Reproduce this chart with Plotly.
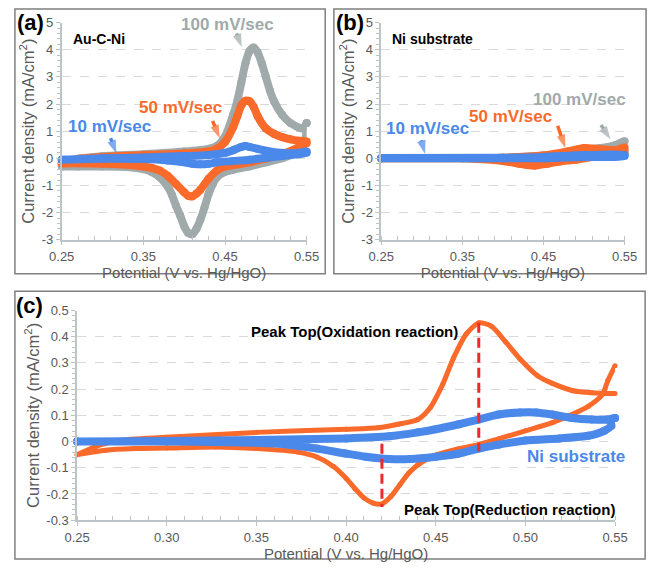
import plotly.graph_objects as go

FONT = "Liberation Sans, Arial, sans-serif"
GREY = "#A0AAAB"
ORANGE = "#F96A2B"
BLUE = "#4A88EA"
AXC = "#BCC4C8"
TICKC = "#595959"

# ---------------- Panel (a): Au-C-Ni ----------------
a100_fwd_v = [0.25, 0.27, 0.30, 0.35, 0.40, 0.43, 0.44, 0.45, 0.46, 0.465, 0.47, 0.475, 0.48, 0.485, 0.49, 0.495, 0.50, 0.505, 0.51, 0.52, 0.53, 0.545, 0.55]
a100_fwd_i = [-0.20, -0.02, 0.08, 0.15, 0.25, 0.35, 0.45, 0.80, 1.60, 2.10, 2.80, 3.50, 3.95, 4.08, 3.90, 3.50, 3.00, 2.50, 2.10, 1.60, 1.30, 1.10, 1.30]
a100_rev_v = [0.55, 0.548, 0.54, 0.52, 0.50, 0.48, 0.46, 0.45, 0.44, 0.435, 0.43, 0.425, 0.42, 0.415, 0.41, 0.405, 0.40, 0.395, 0.39, 0.385, 0.38, 0.37, 0.36, 0.35, 0.33, 0.30, 0.27, 0.25]
a100_rev_i = [1.30, 0.60, 0.25, 0.00, -0.15, -0.30, -0.42, -0.50, -0.70, -0.95, -1.30, -1.80, -2.25, -2.60, -2.80, -2.75, -2.50, -2.10, -1.75, -1.35, -1.05, -0.70, -0.50, -0.40, -0.32, -0.30, -0.30, -0.30]

a50_fwd_v = [0.25, 0.27, 0.30, 0.35, 0.40, 0.43, 0.44, 0.45, 0.46, 0.465, 0.47, 0.475, 0.48, 0.485, 0.49, 0.50, 0.51, 0.52, 0.53, 0.54, 0.55]
a50_fwd_i = [-0.18, -0.02, 0.05, 0.12, 0.18, 0.25, 0.35, 0.60, 1.15, 1.55, 1.95, 2.12, 2.10, 1.90, 1.55, 1.10, 0.90, 0.78, 0.70, 0.65, 0.62]
a50_rev_v = [0.55, 0.54, 0.52, 0.50, 0.48, 0.46, 0.45, 0.44, 0.43, 0.42, 0.415, 0.41, 0.405, 0.40, 0.39, 0.38, 0.37, 0.36, 0.35, 0.32, 0.30, 0.27, 0.25]
a50_rev_i = [0.55, 0.40, 0.15, 0.00, -0.15, -0.25, -0.30, -0.45, -0.75, -1.15, -1.30, -1.40, -1.38, -1.25, -0.95, -0.65, -0.45, -0.35, -0.30, -0.22, -0.20, -0.18, -0.18]

a10_fwd_v = [0.25, 0.30, 0.35, 0.40, 0.43, 0.45, 0.46, 0.47, 0.475, 0.48, 0.49, 0.50, 0.52, 0.54, 0.55]
a10_fwd_i = [-0.05, 0.00, 0.03, 0.08, 0.12, 0.20, 0.30, 0.42, 0.45, 0.42, 0.35, 0.28, 0.20, 0.20, 0.25]
a10_rev_v = [0.55, 0.53, 0.50, 0.48, 0.46, 0.44, 0.43, 0.42, 0.41, 0.40, 0.38, 0.35, 0.30, 0.25]
a10_rev_i = [0.20, 0.12, 0.02, -0.05, -0.10, -0.15, -0.20, -0.22, -0.20, -0.15, -0.08, -0.03, -0.02, -0.05]

# ---------------- Panel (b): Ni substrate ----------------
b100_fwd_v = [0.25, 0.35, 0.40, 0.45, 0.48, 0.50, 0.52, 0.53, 0.54, 0.55]
b100_fwd_i = [0.00, 0.00, 0.02, 0.10, 0.20, 0.30, 0.38, 0.42, 0.50, 0.63]
b100_rev_v = [0.55, 0.53, 0.50, 0.47, 0.45, 0.43, 0.40, 0.35, 0.25]
b100_rev_i = [0.30, 0.15, 0.05, -0.05, -0.10, -0.10, -0.05, 0.00, 0.00]

b50_fwd_v = [0.25, 0.35, 0.40, 0.45, 0.48, 0.50, 0.52, 0.54, 0.55]
b50_fwd_i = [0.00, 0.00, 0.02, 0.10, 0.25, 0.38, 0.33, 0.30, 0.40]
b50_rev_v = [0.55, 0.52, 0.49, 0.47, 0.455, 0.44, 0.43, 0.42, 0.40, 0.37, 0.35, 0.25]
b50_rev_i = [0.20, 0.10, -0.05, -0.12, -0.20, -0.27, -0.25, -0.20, -0.10, -0.03, 0.00, 0.00]

b10_fwd_v = [0.25, 0.40, 0.45, 0.50, 0.55]
b10_fwd_i = [0.01, 0.02, 0.05, 0.12, 0.12]
b10_rev_v = [0.55, 0.50, 0.45, 0.40, 0.25]
b10_rev_i = [0.08, 0.05, 0.00, 0.00, 0.00]

# ---------------- Panel (c): comparison ----------------
c_au_rev_v = [0.55, 0.546, 0.543, 0.535, 0.526, 0.515, 0.50, 0.485, 0.474, 0.463, 0.45, 0.44, 0.435, 0.43, 0.425, 0.42, 0.415, 0.41, 0.405, 0.40, 0.393, 0.384, 0.373, 0.35, 0.327, 0.30, 0.282, 0.266, 0.25]
c_au_rev_i = [0.289, 0.233, 0.18, 0.134, 0.103, 0.072, 0.041, 0.01, -0.012, -0.027, -0.052, -0.089, -0.12, -0.165, -0.21, -0.238, -0.235, -0.215, -0.18, -0.14, -0.095, -0.06, -0.04, -0.027, -0.021, -0.025, -0.027, -0.033, -0.05]
c_au_fwd_v = [0.25, 0.26, 0.273, 0.30, 0.35, 0.40, 0.418, 0.429, 0.44, 0.447, 0.454, 0.46, 0.467, 0.474, 0.481, 0.489, 0.497, 0.507, 0.515, 0.526, 0.537, 0.55]
c_au_fwd_i = [-0.05, -0.02, 0.004, 0.016, 0.035, 0.047, 0.053, 0.066, 0.084, 0.13, 0.22, 0.32, 0.41, 0.453, 0.44, 0.38, 0.315, 0.25, 0.222, 0.195, 0.186, 0.183]

c_ni_fwd_v = [0.25, 0.30, 0.35, 0.40, 0.424, 0.44, 0.45, 0.463, 0.474, 0.485, 0.497, 0.506, 0.515, 0.526, 0.537, 0.546, 0.55]
c_ni_fwd_i = [0.0, 0.002, 0.006, 0.012, 0.02, 0.035, 0.047, 0.066, 0.084, 0.103, 0.111, 0.111, 0.103, 0.09, 0.084, 0.084, 0.09]
c_ni_rev_v = [0.55, 0.548, 0.544, 0.535, 0.519, 0.50, 0.485, 0.474, 0.463, 0.45, 0.436, 0.424, 0.411, 0.40, 0.384, 0.368, 0.35, 0.30, 0.25]
c_ni_rev_i = [0.09, 0.06, 0.041, 0.022, 0.012, 0.004, -0.012, -0.027, -0.046, -0.058, -0.067, -0.067, -0.058, -0.046, -0.027, -0.012, -0.005, 0.0, 0.0]

# pointer arrows (tail -> tip) for the scan-rate labels
a_arrows = [  # (tail_v, tail_i, tip_v, tip_i, colour)
    (0.4641, 4.60, 0.4705, 4.10, GREY),
    (0.4348, 1.38, 0.4435, 0.74, ORANGE),
    (0.3099, 0.74, 0.3170, 0.18, BLUE),
]
b_arrows = [
    (0.5208, 1.23, 0.5326, 0.70, GREY),
    (0.4674, 1.20, 0.4769, 0.38, ORANGE),
    (0.2993, 0.66, 0.3040, 0.17, BLUE),
]

# tick labels
ab_xticks = [0.25, 0.35, 0.45, 0.55]
ab_xticklabels = ["0.25", "0.35", "0.45", "0.55"]
ab_yticks = [-3, -2, -1, 0, 1, 2, 3, 4, 5]
ab_yticklabels = ["-3", "-2", "-1", "0", "1", "2", "3", "4", "5"]
c_xticks = [0.25, 0.30, 0.35, 0.40, 0.45, 0.50, 0.55]
c_xticklabels = ["0.25", "0.30", "0.35", "0.40", "0.45", "0.50", "0.55"]
c_yticks = [-0.3, -0.2, -0.1, 0, 0.1, 0.2, 0.3, 0.4, 0.5]
c_yticklabels = ["-0.3", "-0.2", "-0.1", "0", "0.1", "0.2", "0.3", "0.4", "0.5"]

fig = go.Figure()


def loop(xa, ya, v1, i1, v2, i2, color, width, name):
    fig.add_trace(go.Scatter(
        x=v1 + v2, y=i1 + i2, mode="lines+markers", name=name,
        line=dict(color=color, width=width, shape="spline", smoothing=0.7),
        marker=dict(color=color, size=width, line=dict(width=0)),
        cliponaxis=False, xaxis=xa, yaxis=ya, showlegend=False, hoverinfo="skip"))


loop("x", "y", a100_fwd_v, a100_fwd_i, a100_rev_v, a100_rev_i, GREY, 8, "100 mV/sec")
loop("x", "y", a50_fwd_v, a50_fwd_i, a50_rev_v, a50_rev_i, ORANGE, 8, "50 mV/sec")
loop("x", "y", a10_fwd_v, a10_fwd_i, a10_rev_v, a10_rev_i, BLUE, 8, "10 mV/sec")

loop("x2", "y2", b100_fwd_v, b100_fwd_i, b100_rev_v, b100_rev_i, GREY, 8, "100 mV/sec")
loop("x2", "y2", b50_fwd_v, b50_fwd_i, b50_rev_v, b50_rev_i, ORANGE, 8, "50 mV/sec")
loop("x2", "y2", b10_fwd_v, b10_fwd_i, b10_rev_v, b10_rev_i, BLUE, 8, "10 mV/sec")

loop("x3", "y3", c_au_rev_v, c_au_rev_i, c_au_fwd_v, c_au_fwd_i, ORANGE, 5, "Au-C-Ni")
loop("x3", "y3", c_ni_fwd_v, c_ni_fwd_i, c_ni_rev_v, c_ni_rev_i, BLUE, 8, "Ni substrate")

# arrows as line + arrow-head marker
for xa, ya, arrows in [("x", "y", a_arrows), ("x2", "y2", b_arrows)]:
    for tv, ti, hv, hi, col in arrows:
        fig.add_trace(go.Scatter(
            x=[tv, hv], y=[ti, hi], mode="lines+markers", xaxis=xa, yaxis=ya,
            line=dict(color=col, width=3.5),
            marker=dict(symbol="arrow", size=[0, 14], angleref="previous", color=col, line=dict(width=0)),
            showlegend=False, hoverinfo="skip", cliponaxis=False))

# peak marker lines derived from data
ox_k = max(range(len(c_au_fwd_i)), key=lambda k: c_au_fwd_i[k])
red_k = min(range(len(c_au_rev_i)), key=lambda k: c_au_rev_i[k])
ox_v, ox_i = c_au_fwd_v[ox_k], c_au_fwd_i[ox_k]
rd_v, rd_i = c_au_rev_v[red_k], c_au_rev_i[red_k]
fig.add_trace(go.Scatter(x=[ox_v, ox_v], y=[ox_i, -0.037], mode="lines", xaxis="x3", yaxis="y3",
                         line=dict(color="#F0282A", width=3, dash="10px,5px"), showlegend=False, hoverinfo="skip"))
fig.add_trace(go.Scatter(x=[rd_v, rd_v], y=[-0.008, rd_i - 0.012], mode="lines", xaxis="x3", yaxis="y3",
                         line=dict(color="#F0282A", width=3, dash="10px,5px"), showlegend=False, hoverinfo="skip"))

W, H = 661, 571


def px(v):
    return v / W


def py(v):
    return 1 - v / H


tickfont = dict(family=FONT, size=13, color=TICKC)
xtitlefont = dict(family=FONT, size=15, color=TICKC)
ytitlefont = dict(family=FONT, size=16.5, color=TICKC)


def xaxis(domain, ticks, labels, minor_dt, anchor):
    return dict(domain=domain, range=[0.25, 0.55], anchor=anchor, showgrid=False, zeroline=False,
                showline=True, linecolor=AXC, linewidth=1.5, tickmode="array", tickvals=ticks,
                ticktext=labels, ticks="outside", ticklen=4, tickcolor=AXC, tickfont=tickfont,
                minor=dict(tick0=0.25, dtick=minor_dt, ticks="inside", ticklen=4, tickcolor=AXC),
                title=dict(text="Potential (V vs. Hg/HgO)", font=xtitlefont, standoff=0))


def yaxis(domain, rng, ticks, labels, minor_dt, anchor):
    return dict(domain=domain, range=rng, anchor=anchor, showgrid=True, gridcolor="#D9D9D9",
                griddash="dash", gridwidth=1, zeroline=False, showline=True, linecolor=AXC,
                linewidth=1.5, tickmode="array", tickvals=ticks, ticktext=labels, ticks="outside",
                ticklen=4, tickcolor=AXC, tickfont=tickfont,
                minor=dict(tick0=rng[0], dtick=minor_dt, ticks="outside", ticklen=3, tickcolor=AXC, showgrid=False),
                title=dict(text="Current density (mA/cm<sup>2</sup>)", font=ytitlefont, standoff=3))


fig.update_layout(
    width=W, height=H, autosize=False, margin=dict(l=0, r=0, t=0, b=0),
    paper_bgcolor="white", plot_bgcolor="white", font=dict(family=FONT),
    xaxis=xaxis([px(50.7), px(305.7)], ab_xticks, ab_xticklabels, 0.02, "y"),
    yaxis=yaxis([py(239), py(16)], [-3, 5], ab_yticks, ab_yticklabels, 0.2, "x"),
    xaxis2=xaxis([px(383.3), px(636.7)], ab_xticks, ab_xticklabels, 0.02, "y2"),
    yaxis2=yaxis([py(239), py(16)], [-3, 5], ab_yticks, ab_yticklabels, 0.2, "x2"),
    xaxis3=xaxis([px(66.7), px(626.7)], c_xticks, c_xticklabels, 0.01, "y3"),
    yaxis3=yaxis([py(527), py(311.7)], [-0.3, 0.5], c_yticks, c_yticklabels, 0.02, "x3"),
)

# panel boxes
for x0, x1, y0, y1 in [(2, 325, 2, 274), (334, 659, 2, 274), (2, 658, 292, 567)]:
    fig.add_shape(type="rect", xref="paper", yref="paper", x0=px(x0), x1=px(x1), y0=py(y1), y1=py(y0),
                  line=dict(color="#7F7F7F", width=1.5), layer="above")

ann = []
# panel letters
for t, x, y in [("(a)", 2, 1), ("(b)", 334, 1), ("(c)", 1, 292)]:
    ann.append(dict(text=f"<b>{t}</b>", xref="paper", yref="paper", x=px(x), y=py(y), xanchor="left",
                    yanchor="top", showarrow=False, font=dict(family=FONT, size=22, color="black")))

bold17 = lambda c: dict(family=FONT, size=17, color=c)
# panel (a) texts
ann += [
    dict(text="<b>Au-C-Ni</b>", x=0.261, y=4.39, xref="x", yref="y", xanchor="left", showarrow=False,
         font=dict(family=FONT, size=14, color="black")),
    dict(text="<b>100 mV/sec</b>", x=0.453, y=4.93, xref="x", yref="y", showarrow=False, font=bold17(GREY)),
    dict(text="<b>50 mV/sec</b>", x=0.395, y=1.88, xref="x", yref="y", showarrow=False, font=bold17(ORANGE)),
    dict(text="<b>10 mV/sec</b>", x=0.308, y=1.16, xref="x", yref="y", showarrow=False, font=bold17(BLUE)),
]
# panel (b) texts
ann += [
    dict(text="<b>Ni substrate</b>", x=0.2603, y=4.39, xref="x2", yref="y2", xanchor="left", showarrow=False,
         font=dict(family=FONT, size=14, color="black")),
    dict(text="<b>100 mV/sec</b>", x=0.4947, y=2.17, xref="x2", yref="y2", showarrow=False, font=bold17(GREY)),
    dict(text="<b>50 mV/sec</b>", x=0.4094, y=1.555, xref="x2", yref="y2", showarrow=False, font=bold17(ORANGE)),
    dict(text="<b>10 mV/sec</b>", x=0.3065, y=1.09, xref="x2", yref="y2", showarrow=False, font=bold17(BLUE)),
]
# panel (c) texts
ann += [
    dict(text="Au-C-Ni", x=0.4738, y=0.504, xref="x3", yref="y3", showarrow=False,
         font=dict(family=FONT, size=17, color=ORANGE)),
    dict(text="<b>Ni substrate</b>", x=0.528, y=-0.0576, xref="x3", yref="y3", showarrow=False,
         font=dict(family=FONT, size=17, color=BLUE)),
    dict(text="<b>Peak Top(Oxidation reaction)</b>", x=0.4045, y=0.42, xref="x3", yref="y3", showarrow=False,
         font=dict(family=FONT, size=15, color="black")),
    dict(text="<b>Peak Top(Reduction reaction)</b>", x=0.4912, y=-0.2595, xref="x3", yref="y3", showarrow=False,
         font=dict(family=FONT, size=15, color="black")),
]
fig.update_layout(annotations=ann)

fig.write_html("out.html")
